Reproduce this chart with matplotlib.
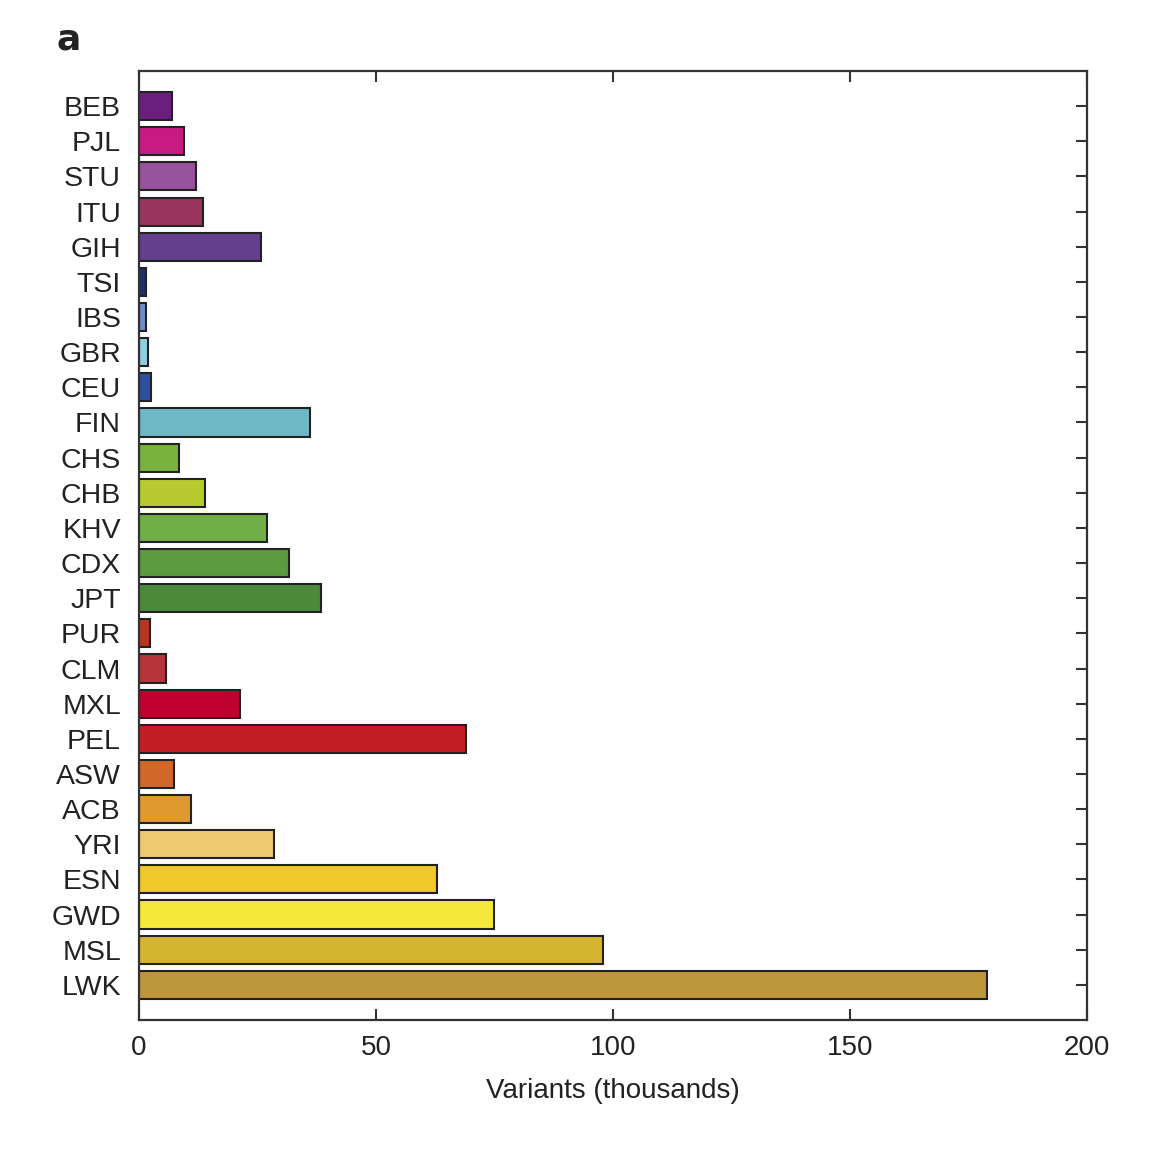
import numpy as np
import matplotlib.pyplot as plt

plt.rcParams["font.family"] = ["Liberation Sans", "DejaVu Sans"]

# populations, top to bottom
pops = ["BEB", "PJL", "STU", "ITU", "GIH", "TSI", "IBS", "GBR", "CEU", "FIN",
        "CHS", "CHB", "KHV", "CDX", "JPT", "PUR", "CLM", "MXL", "PEL", "ASW",
        "ACB", "YRI", "ESN", "GWD", "MSL", "LWK"]
variants = [7.0, 9.5, 12.0, 13.5, 25.7, 1.5, 1.5, 1.9, 2.5, 36.0,
            8.4, 13.9, 27.0, 31.6, 38.4, 2.3, 5.7, 21.3, 69.0, 7.4,
            11.0, 28.5, 62.9, 74.9, 97.9, 178.9]
colors = ["#6a1f7e", "#c81a82", "#96529a", "#9a3560", "#643f8e", "#232f6a",
          "#6f8fca", "#8fd0e0", "#2f4fa0", "#6eb8c6", "#7ab23e", "#b7cb30",
          "#72ae46", "#5c9c40", "#4a8a3a", "#b8361e", "#b73438", "#c0002e",
          "#c41e25", "#d2672a", "#e0992e", "#f0c870", "#f0c82a", "#f5e83a",
          "#d4b430", "#be963c"]
x_ticks = [0, 50, 100, 150, 200]

fig = plt.figure(figsize=(11.61, 11.60), dpi=100)
ax = fig.add_axes([0.1197, 0.1207, 0.8166, 0.8181])

ypos = np.arange(1, len(pops) + 1)
ax.barh(ypos, variants, height=0.8, color=colors, edgecolor="#222222",
        linewidth=1.5, zorder=2)

ax.set_xlim(0, 200)
ax.set_ylim(len(pops) + 1, 0)
ax.set_xticks(x_ticks)
ax.set_xticklabels([str(t) for t in x_ticks])
ax.set_yticks(ypos)
ax.set_yticklabels(pops)

ax.tick_params(axis="x", direction="in", top=True, length=8, width=1.5,
               color="#333333", labelsize=20, pad=11, labelcolor="#222222")
ax.tick_params(axis="y", direction="in", left=False, right=True, length=8,
               width=1.5, color="#333333", labelsize=20.5, pad=13,
               labelcolor="#222222")
for s in ax.spines.values():
    s.set_linewidth(1.6)
    s.set_color("#333333")
ax.spines["left"].set_zorder(3)

ax.set_xlabel("Variants (thousands)", fontsize=20, color="#222222",
              labelpad=12)

fig.text(0.049, 0.966, "a", fontsize=26, fontweight="bold", color="#222222",
         va="center", ha="left", family=["DejaVu Sans"])

fig.savefig("out.png", dpi=100)
